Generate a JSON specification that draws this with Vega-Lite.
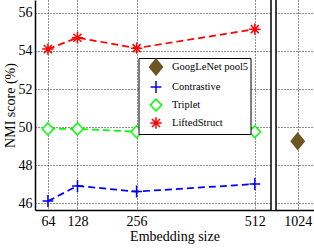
{
  "$schema": "https://vega.github.io/schema/vega-lite/v6.json",
  "width": 279,
  "height": 210,
  "autosize": {"type": "none"},
  "padding": {"left": 35, "top": 0, "right": 0, "bottom": 40},
  "config": {
    "font": "Liberation Serif",
    "view": {"stroke": null},
    "axis": {
      "labelFont": "Liberation Serif",
      "labelFontSize": 14,
      "labelColor": "black",
      "titleFont": "Liberation Serif",
      "titleFontSize": 14,
      "titleFontWeight": "normal",
      "titleColor": "black",
      "domainColor": "black",
      "domainWidth": 1.5,
      "ticks": false,
      "gridColor": "#222222",
      "gridDash": [1, 2],
      "gridWidth": 1
    }
  },
  "datasets": {
    "scores": [
      {"method": "GoogLeNet pool5", "size": 1024, "nmi": 49.25},
      {"method": "Contrastive", "size": 64, "nmi": 46.1},
      {"method": "Contrastive", "size": 128, "nmi": 46.9},
      {"method": "Contrastive", "size": 256, "nmi": 46.6},
      {"method": "Contrastive", "size": 512, "nmi": 47.0},
      {"method": "Triplet", "size": 64, "nmi": 49.9},
      {"method": "Triplet", "size": 128, "nmi": 49.9},
      {"method": "Triplet", "size": 256, "nmi": 49.75},
      {"method": "Triplet", "size": 512, "nmi": 49.75},
      {"method": "LiftedStruct", "size": 64, "nmi": 54.1},
      {"method": "LiftedStruct", "size": 128, "nmi": 54.7},
      {"method": "LiftedStruct", "size": 256, "nmi": 54.15},
      {"method": "LiftedStruct", "size": 512, "nmi": 55.15}
    ],
    "axisbreak": [{"from": 547, "to": 1000}]
  },
  "layer": [
    {
      "data": {"name": "axisbreak"},
      "mark": {"type": "rect", "fill": "white", "stroke": null},
      "encoding": {
        "x": {"field": "from", "type": "quantitative", "title": "Embedding size",
          "scale": {"domain": [36, 547, 1000, 1042], "range": [0, 236, 241, 279], "nice": false, "zero": false},
          "axis": {"values": [64, 128, 256, 512, 1024], "format": "d", "labelPadding": 4, "titlePadding": 1}},
        "x2": {"field": "to"}
      }
    },
    {
      "data": {"name": "axisbreak"},
      "mark": {"type": "rule", "color": "black", "strokeWidth": 1.5},
      "encoding": {
        "x": {"field": "from", "type": "quantitative", "title": "Embedding size"}
      }
    },
    {
      "data": {"name": "axisbreak"},
      "mark": {"type": "rule", "color": "black", "strokeWidth": 1.5},
      "encoding": {
        "x": {"field": "to", "type": "quantitative", "title": "Embedding size"}
      }
    },
    {
      "data": {"name": "scores"},
      "mark": {"type": "line", "strokeDash": [7, 4], "strokeWidth": 1.75},
      "encoding": {
        "x": {"field": "size", "type": "quantitative", "title": "Embedding size"},
        "y": {"field": "nmi", "type": "quantitative", "title": "NMI score (%)",
          "scale": {"domain": [45.632, 56.684], "nice": false, "zero": false},
          "axis": {"values": [46, 48, 50, 52, 54, 56], "format": "d", "labelPadding": 3, "titlePadding": 1}},
        "stroke": {"field": "method", "type": "nominal",
          "scale": {"domain": ["GoogLeNet pool5", "Contrastive", "Triplet", "LiftedStruct"], "range": ["#6E5523", "#0000FF", "#00FF00", "#FF0000"]}},
        "detail": {"field": "method"}
      }
    },
    {
      "data": {"name": "scores"},
      "mark": {"type": "point", "opacity": 1, "strokeWidth": 1.5, "size": 144},
      "encoding": {
        "x": {"field": "size", "type": "quantitative", "title": "Embedding size"},
        "y": {"field": "nmi", "type": "quantitative", "title": "NMI score (%)"},
        "shape": {"field": "method", "type": "nominal",
          "scale": {"domain": ["GoogLeNet pool5", "Contrastive", "Triplet", "LiftedStruct"],
            "range": [
              "M0,-1.33L1.08,0L0,1.33L-1.08,0Z",
              "M-0.9,0H0.9M0,-1V1",
              "M0,-1L0.95,0L0,1L-0.95,0Z",
              "M0,-0.95V0.95M-0.95,0H0.95M-0.67,-0.67L0.67,0.67M-0.67,0.67L0.67,-0.67"
            ]},
          "legend": null},
        "fill": {"field": "method", "type": "nominal",
          "scale": {"domain": ["GoogLeNet pool5", "Contrastive", "Triplet", "LiftedStruct"], "range": ["#6E5523", "transparent", "white", "transparent"]},
          "legend": null},
        "stroke": {"field": "method", "type": "nominal",
          "legend": {
            "title": null,
            "orient": "none",
            "legendX": 103.5,
            "legendY": 58,
            "strokeColor": "black",
            "fillColor": "white",
            "padding": 2,
            "symbolSize": 144,
            "symbolStrokeWidth": 1.5,
            "symbolOffset": 8.5,
            "symbolDash": [1, 0],
            "labelOffset": 9,
            "labelFont": "Liberation Serif",
            "labelFontSize": 10.5,
            "labelColor": "black",
            "rowPadding": 0
          }
        }
      }
    }
  ]
}
